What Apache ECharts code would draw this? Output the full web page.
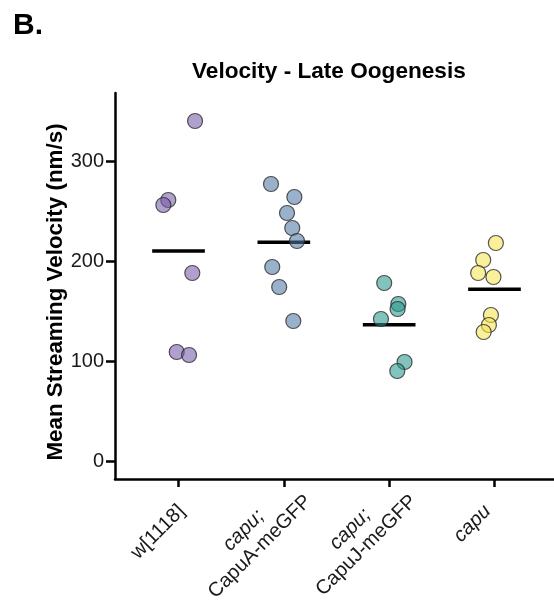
<!DOCTYPE html>
<html>
<head>
<meta charset="utf-8">
<script src="https://cdn.jsdelivr.net/npm/echarts@6/dist/echarts.min.js"></script>
<style>
  html, body { margin: 0; padding: 0; background: #fff; }
  #chart { width: 554px; height: 610px; }
</style>
</head>
<body>
<div id="chart"></div>
<script>
// groups, left to right
const groupNames = ['w[1118]', 'capu; CapuA-meGFP', 'capu; CapuJ-meGFP', 'capu'];
const groupLabels = [
  '{gapA| }\n{single|w[1118]}',
  '{i|capu;}\n{n|CapuA-meGFP}',
  '{i|capu;}\n{n|CapuJ-meGFP}',
  '{gapB| }\n{singleI|capu}'
];

// mean streaming velocity (nm/s), one value per oocyte
const w1118 = [340, 261, 256, 188, 109, 106];
const capuA = [277, 264, 248, 233, 220, 194, 174, 140];
const capuJ = [178, 157, 152, 142, 99, 90];
const capu = [218, 201, 188, 184, 146, 136, 129];

// horizontal jitter of each point (fraction of a category step)
const w1118Jitter = [0.157, -0.097, -0.144, 0.131, -0.017, 0.10];
const capuAJitter = [-0.122, 0.10, 0.03, 0.08, 0.125, -0.11, -0.044, 0.09];
const capuJJitter = [-0.047, 0.087, 0.08, -0.078, 0.146, 0.077];
const capuJitter = [0.013, -0.107, -0.155, -0.01, -0.034, -0.053, -0.103];

const yTicks = [0, 100, 200, 300];

const groups = [w1118, capuA, capuJ, capu];
const jitters = [w1118Jitter, capuAJitter, capuJJitter, capuJitter];
const colors = [
  'rgba(118, 90, 168, 0.72)',
  'rgba(80, 120, 166, 0.72)',
  'rgba(38, 152, 140, 0.72)',
  'rgba(246, 228, 80, 0.72)'
];

const FONT = 'Liberation Sans';
const chart = echarts.init(document.getElementById('chart'));

const series = [];
groups.forEach(function (vals, g) {
  const mean = vals.reduce((a, b) => a + b, 0) / vals.length;
  series.push({
    name: groupNames[g] + ' mean',
    type: 'line',
    data: [[g + 1 - 0.25, mean], [g + 1 + 0.25, mean]],
    symbol: 'none',
    lineStyle: { color: '#000', width: 3.5 },
    silent: true,
    z: 2
  });
  series.push({
    name: groupNames[g],
    type: 'scatter',
    data: vals.map((v, i) => [g + 1 + jitters[g][i], v]),
    symbolSize: 15,
    itemStyle: { color: colors[g], borderColor: '#2b2b2b', borderWidth: 1.2 },
    z: 3
  });
});

const labelText = { fontFamily: FONT, fontSize: 20, color: '#1a1a1a', lineHeight: 23 };

const option = {
  animation: false,
  backgroundColor: '#fff',
  title: [
    {
      text: 'B.',
      left: 8,
      top: 6,
      textStyle: { fontFamily: FONT, fontSize: 30, fontWeight: 'bold', color: '#000' }
    },
    {
      text: 'Velocity - Late Oogenesis',
      left: 187,
      top: 55,
      textStyle: { fontFamily: FONT, fontSize: 22.6, fontWeight: 'bold', color: '#000' }
    }
  ],
  grid: { left: 115, right: 0, top: 93, bottom: 131, outerBoundsMode: 'none', containLabel: false },
  xAxis: {
    type: 'value',
    min: 0.397,
    max: 4.565,
    splitLine: { show: false },
    axisLine: { show: true, onZero: false, lineStyle: { color: '#000', width: 2.5 } },
    axisTick: { show: true, customValues: [1, 2, 3, 4], length: 8, lineStyle: { color: '#000', width: 2.5 } },
    axisLabel: {
      customValues: [1, 2, 3, 4],
      formatter: function (v) { return groupLabels[Math.round(v) - 1]; },
      rotate: 45,
      align: 'right',
      verticalAlign: 'top',
      margin: -5,
      rich: {
        n: Object.assign({ align: 'center' }, labelText),
        i: Object.assign({ align: 'center', fontStyle: 'italic' }, labelText),
        gapA: { fontSize: 4, lineHeight: 15 },
        gapB: { fontSize: 4, lineHeight: 8 },
        single: Object.assign({ align: 'right', padding: [0, 22, 0, 0] }, labelText),
        singleI: Object.assign({ align: 'right', fontStyle: 'italic', padding: [0, 29, 0, 0] }, labelText)
      }
    }
  },
  yAxis: {
    type: 'value',
    min: -18,
    max: 368,
    name: 'Mean Streaming Velocity (nm/s)',
    nameLocation: 'middle',
    nameRotate: 90,
    nameGap: 48,
    nameMoveOverlap: false,
    nameTextStyle: { fontFamily: FONT, fontSize: 22.4, fontWeight: 'bold', color: '#000', padding: [0, 12, 0, 0] },
    splitLine: { show: false },
    axisLine: { show: true, onZero: false, lineStyle: { color: '#000', width: 2.5 } },
    axisTick: { show: true, customValues: yTicks, length: 9, lineStyle: { color: '#000', width: 2.5 } },
    axisLabel: {
      customValues: yTicks,
      fontFamily: FONT,
      fontSize: 20,
      color: '#1a1a1a',
      margin: 11
    }
  },
  series: series
};

chart.setOption(option);
</script>
</body>
</html>
